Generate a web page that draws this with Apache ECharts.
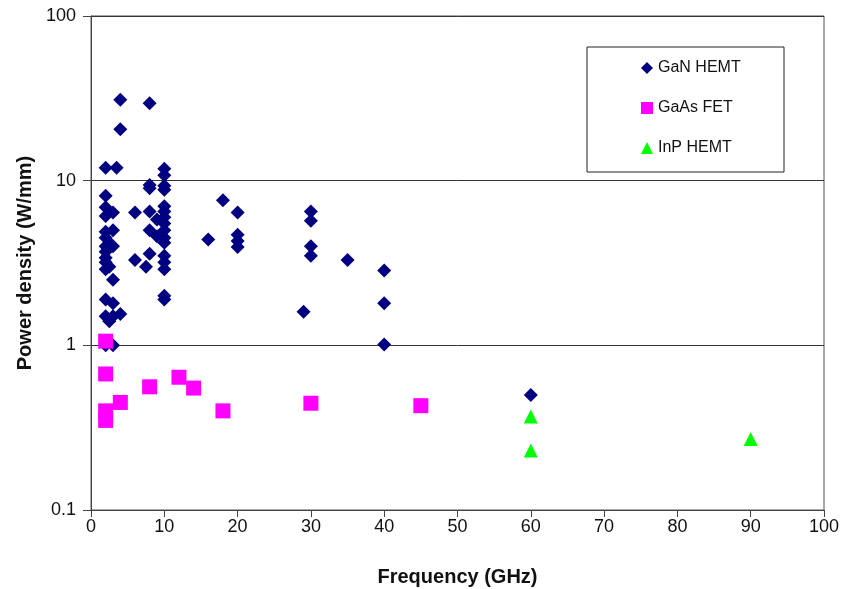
<!DOCTYPE html>
<html>
<head>
<meta charset="utf-8">
<script src="https://cdn.jsdelivr.net/npm/echarts@6/dist/echarts.min.js"></script>
<style>
  html, body { margin: 0; padding: 0; background: #fff; }
  #chart { width: 842px; height: 589px; }
</style>
</head>
<body>
<div id="chart"></div>
<script>
// values: [frequency GHz, power density W/mm]
var ganHemt = [
  [2, 12], [3.5, 12], [4, 31], [4, 20.5], [8, 29.5],
  [2, 8.1], [2, 6.9], [3, 6.4], [2, 6.1], [2, 4.9], [3, 5.0], [2, 4.5], [2.5, 4.2],
  [2, 4.0], [3, 4.0], [2, 3.7], [2, 3.4], [2, 3.2], [2.5, 3.0], [2, 2.9], [3, 2.5],
  [2, 1.9], [3, 1.8], [2, 1.5], [3, 1.5], [2.5, 1.4], [4, 1.55], [2, 1.0], [3, 1.0],
  [6, 6.4], [6, 3.3], [7.5, 3.0], [8, 9.4], [8, 9.0], [8, 6.5], [8, 5.0], [8, 3.6],
  [9, 5.8], [9, 4.6],
  [10, 11.8], [10, 10.8], [10, 9.3], [10, 8.8], [10, 7.0], [10, 6.5], [10, 6.0],
  [10, 5.5], [10, 5.0], [10, 4.5], [10, 4.2], [10, 3.5], [10, 3.2], [10, 2.9],
  [10, 2.0], [10, 1.9],
  [16, 4.4], [18, 7.6], [20, 6.4], [20, 4.7], [20, 4.3], [20, 3.95],
  [29, 1.6], [30, 6.5], [30, 5.7], [30, 4.0], [30, 3.5], [35, 3.3],
  [40, 2.85], [40, 1.8], [40, 1.01], [60, 0.5]
];
var gaasFet = [
  [2, 1.06], [2, 0.67], [2, 0.40], [2, 0.35], [4, 0.45], [8, 0.56],
  [12, 0.64], [14, 0.55], [18, 0.40], [30, 0.445], [45, 0.43]
];
var inpHemt = [
  [60, 0.37], [60, 0.23], [90, 0.27]
];
var yTicks = ['0.1', '1', '10', '100'];

var chart = echarts.init(document.getElementById('chart'));
var font = 'Liberation Sans, Arial, sans-serif';

chart.setOption({
  animation: false,
  backgroundColor: '#fff',
  textStyle: { fontFamily: font },
  grid: {
    left: 91, right: 18, top: 16, bottom: 79,
    outerBoundsMode: 'none',
    containLabel: false,
    show: true, borderColor: '#555', borderWidth: 1
  },
  graphic: [{
    type: 'rect',
    shape: { x: 587, y: 47, width: 197, height: 125 },
    style: { fill: '#fff', stroke: '#222', lineWidth: 1 },
    z: 10
  }],
  legend: {
    orient: 'vertical',
    left: 636, top: 55,
    itemGap: 24,
    itemWidth: 12, itemHeight: 12,
    textStyle: { fontFamily: font, fontSize: 16, color: '#111' },
    z: 20,
    data: [
      { name: 'GaN HEMT', icon: 'diamond', itemStyle: { color: '#000080' } },
      { name: 'GaAs FET', icon: 'rect', itemStyle: { color: '#ff00ff' } },
      { name: 'InP HEMT', icon: 'triangle', itemStyle: { color: '#00ff00' } }
    ]
  },
  xAxis: {
    type: 'value',
    min: 0, max: 100, interval: 10,
    name: 'Frequency (GHz)',
    nameLocation: 'middle',
    nameGap: 57,
    nameTextStyle: { fontFamily: font, fontSize: 20, fontWeight: 'bold', color: '#111' },
    axisLine: { show: true, lineStyle: { color: '#444' } },
    axisTick: { show: true, length: 7, lineStyle: { color: '#444' } },
    axisLabel: { fontFamily: font, fontSize: 18, color: '#111', margin: 8 },
    splitLine: { show: false }
  },
  yAxis: {
    type: 'log',
    logBase: 10,
    min: 0.1, max: 100,
    name: 'Power density (W/mm)',
    nameLocation: 'middle',
    nameGap: 54,
    nameTextStyle: { fontFamily: font, fontSize: 20, fontWeight: 'bold', color: '#111' },
    axisLine: { show: true, lineStyle: { color: '#444' } },
    axisTick: { show: true, length: 8, lineStyle: { color: '#444' } },
    axisLabel: {
      fontFamily: font, fontSize: 18, color: '#111', margin: 15,
      formatter: function (v) {
        var i = Math.round(Math.log10(v)) + 1;
        return yTicks[i] !== undefined ? yTicks[i] : v;
      }
    },
    splitLine: { show: true, lineStyle: { color: '#333', width: 1 } }
  },
  series: [
    {
      name: 'GaN HEMT', type: 'scatter', symbol: 'diamond', symbolSize: 14,
      itemStyle: { color: '#000080', opacity: 1 },
      data: ganHemt, z: 3
    },
    {
      name: 'GaAs FET', type: 'scatter', symbol: 'rect', symbolSize: 15,
      itemStyle: { color: '#ff00ff', opacity: 1 },
      data: gaasFet, z: 4
    },
    {
      name: 'InP HEMT', type: 'scatter', symbol: 'triangle', symbolSize: 14,
      itemStyle: { color: '#00ff00', opacity: 1 },
      data: inpHemt, z: 5
    }
  ]
});
</script>
</body>
</html>
